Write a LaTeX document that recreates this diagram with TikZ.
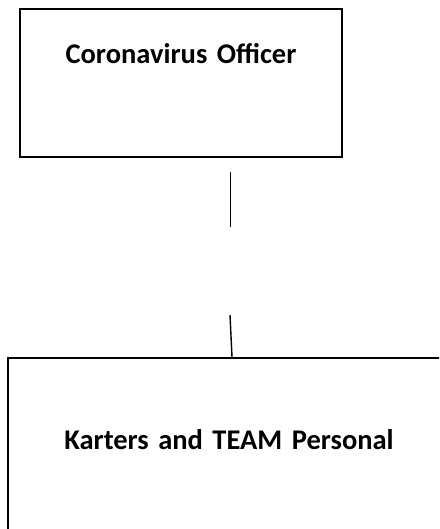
\documentclass[tikz,border=0pt]{standalone}
\usepackage{fontspec}
\setmainfont{Carlito}
\usepackage{tikz}
\usetikzlibrary{positioning}

\begin{document}
\begin{tikzpicture}[
	x=1pt, y=-1pt,
	font=\fontsize{28.5}{34}\selectfont\bfseries,
	% Node styles
	rolebox/.style={
		rectangle, draw=black, line width=2pt,
		fill=white, align=center,
		inner xsep=0pt, inner ysep=0pt
	},
	link/.style={line width=1.4pt, black}
	]
	\useasboundingbox (0,0) rectangle (439,529);
	\clip (0,0) rectangle (439,529);
	
	%% ─── TOP: OFFICER ─────────────────────────────────────────────
	\node[rolebox, text width=322pt, text height=55pt, text depth=93pt,
	anchor=north west] (officer) at (19,8) {Coronavirus Officer};
	
	%% ─── BOTTOM: TEAM ─────────────────────────────────────────────
	\node[rolebox, text width=442pt, text height=91pt, text depth=130pt,
	anchor=north west] (team) at (7,357) {Karters and TEAM Personal};
	
	%% ─── CONNECTOR (broken in two) ────────────────────────────────
	\coordinate (gaptop) at (230.7,227);
	\coordinate (gapbot) at (230,315);
	\coordinate (linefoot) at (232,0);
	\draw[link] ([yshift=-14pt]officer.south -| gaptop) -- (gaptop);
	\draw[link] (gapbot) -- (team.north -| linefoot);
	
\end{tikzpicture}
\end{document}
